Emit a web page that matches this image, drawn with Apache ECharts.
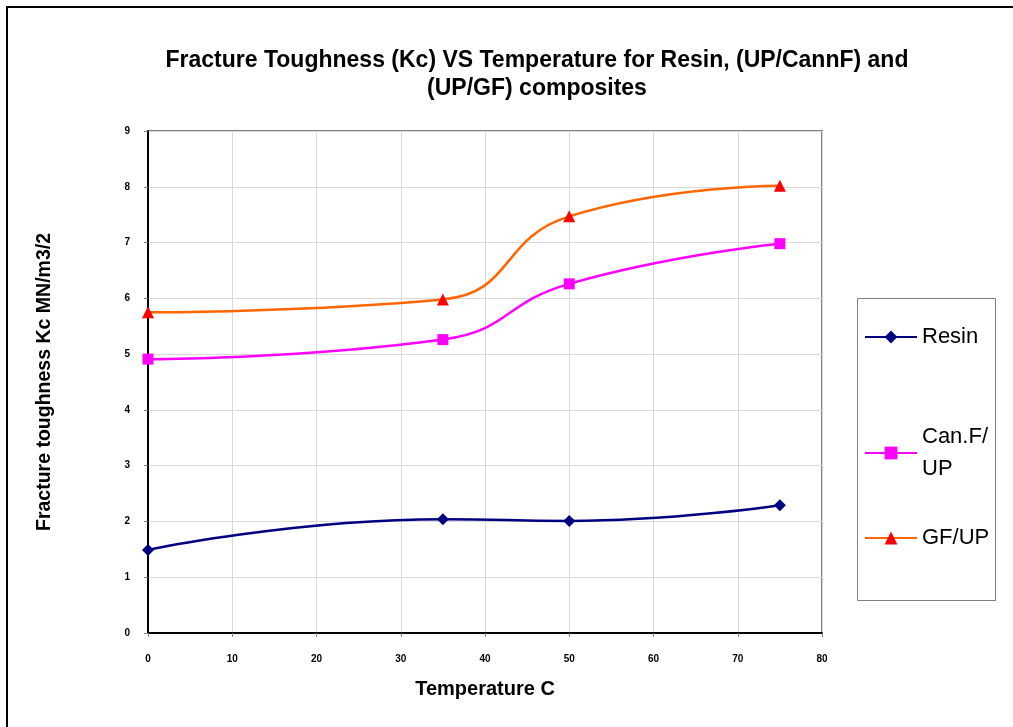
<!DOCTYPE html>
<html>
<head>
<meta charset="utf-8">
<script src="https://cdn.jsdelivr.net/npm/echarts@6/dist/echarts.min.js"></script>
<style>
  html, body { margin: 0; padding: 0; background: #fff; overflow: hidden; }
  #frame { position: absolute; left: 6px; top: 6px; width: 1100px; height: 800px; border: 2px solid #000; }
  #chart { position: absolute; left: 0; top: 0; width: 1013px; height: 727px; }
</style>
</head>
<body>
<div id="frame"></div>
<div id="chart"></div>
<script>
const temps = [0, 35, 50, 75];
const resin = [1.49, 2.04, 2.01, 2.29];
const canF = [4.91, 5.26, 6.26, 6.98];
const gf = [5.75, 5.98, 7.47, 8.02];
const xTicks = [0, 10, 20, 30, 40, 50, 60, 70, 80];
const yTicks = [0, 1, 2, 3, 4, 5, 6, 7, 8, 9];

const pairs = (ys) => temps.map((t, i) => [t, ys[i]]);
const font = 'Arial, "Liberation Sans", sans-serif';

const chart = echarts.init(document.getElementById('chart'));

function legendAt(name, top, formatter, textPad) {
  return {
    data: [name],
    orient: 'vertical',
    left: 859,
    top: top,
    itemWidth: 52,
    itemHeight: 16,
    itemGap: 0,
    selectedMode: false,
    formatter: formatter,
    textStyle: {
      fontFamily: font, fontSize: 22, color: '#000', lineHeight: 32,
      padding: textPad || 0
    }
  };
}

chart.setOption({
  animation: false,
  textStyle: { fontFamily: font },
  title: {
    text: 'Fracture Toughness (Kc) VS Temperature for Resin, (UP/CannF) and\n(UP/GF) composites',
    left: 532,
    textAlign: 'center',
    top: 42,
    textStyle: { fontSize: 23, fontWeight: 'bold', color: '#000', lineHeight: 28, fontFamily: font }
  },
  graphic: [{
    type: 'rect',
    shape: { x: 857.5, y: 298.5, width: 138, height: 302 },
    style: { fill: '#fff', stroke: '#808080', lineWidth: 1 },
    z: 0
  }],
  legend: [
    legendAt('Resin', 316),
    legendAt('Can.F/UP', 400, (n) => 'Can.F/\nUP', [32, 0, 0, 0]),
    legendAt('GF/UP', 517)
  ],
  grid: {
    left: 148, right: 191, top: 131, bottom: 94,
    show: true, borderColor: '#808080', borderWidth: 2
  },
  xAxis: {
    type: 'value',
    min: 0, max: 80, interval: 10,
    name: 'Temperature C',
    nameLocation: 'middle',
    nameGap: 46,
    nameTextStyle: { fontSize: 20, fontWeight: 'bold', color: '#000' },
    axisLine: { lineStyle: { color: '#000', width: 2 } },
    axisTick: { show: true, length: 4, lineStyle: { color: '#808080' } },
    axisLabel: { fontSize: 10, fontWeight: 'bold', color: '#000', margin: 21,
      formatter: (v) => xTicks.includes(v) ? String(v) : '' },
    splitLine: { show: true, lineStyle: { color: '#d9d9d9', width: 1 } }
  },
  yAxis: {
    type: 'value',
    min: 0, max: 9, interval: 1,
    name: 'Fracture toughness Kc MN/m3/2',
    nameLocation: 'middle',
    nameGap: 93,
    nameTextStyle: { fontSize: 19.5, fontWeight: 'bold', color: '#000' },
    axisLine: { show: true, lineStyle: { color: '#000', width: 2 } },
    axisTick: { show: true, length: 4, lineStyle: { color: '#808080' } },
    axisLabel: { fontSize: 10, fontWeight: 'bold', color: '#000', margin: 18,
      formatter: (v) => yTicks.includes(v) ? String(v) : '' },
    splitLine: { show: true, lineStyle: { color: '#d9d9d9', width: 1 } }
  },
  series: [
    {
      name: 'Resin', type: 'line', data: pairs(resin), smooth: 0.5,
      symbol: 'diamond', symbolSize: 12,
      lineStyle: { color: '#000080', width: 2.5 },
      itemStyle: { color: '#000080' }
    },
    {
      name: 'Can.F/UP', type: 'line', data: pairs(canF), smooth: 0.5,
      symbol: 'rect', symbolSize: 11,
      lineStyle: { color: '#ff00ff', width: 2.5 },
      itemStyle: { color: '#ff00ff' }
    },
    {
      name: 'GF/UP', type: 'line', data: pairs(gf), smooth: 0.5,
      symbol: 'triangle', symbolSize: 12,
      lineStyle: { color: '#ff6600', width: 2.5 },
      itemStyle: { color: '#ff0000' }
    }
  ]
});
</script>
</body>
</html>
